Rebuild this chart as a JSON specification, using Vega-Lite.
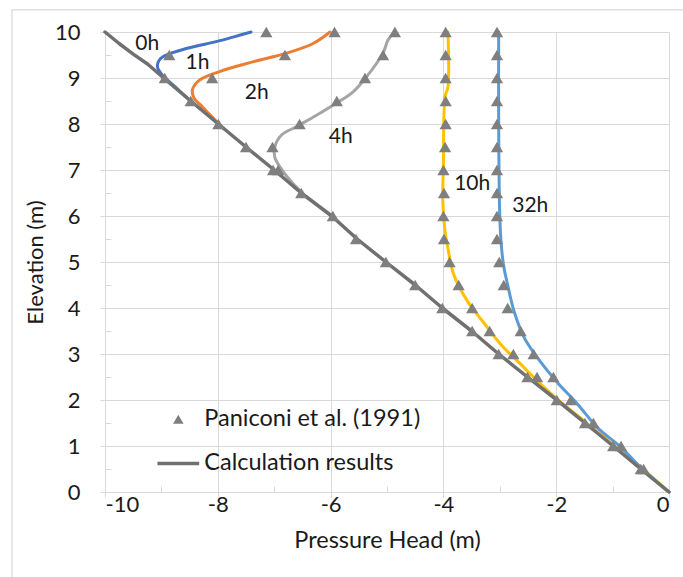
{
  "$schema": "https://vega.github.io/schema/vega-lite/v6.json",
  "width": 564,
  "height": 460,
  "autosize": "none",
  "padding": {"left": 105, "top": 32, "right": 14, "bottom": 85},
  "background": "white",
  "config": {"view": {"stroke": null}, "font": "Lato"},
  "datasets": {
    "lines": [
      {"s": "1h", "i": 1, "p": -7.41, "e": 10},
      {"s": "1h", "i": 2, "p": -7.7, "e": 9.9},
      {"s": "1h", "i": 3, "p": -8.03, "e": 9.79},
      {"s": "1h", "i": 4, "p": -8.56, "e": 9.64},
      {"s": "1h", "i": 5, "p": -9.01, "e": 9.43},
      {"s": "1h", "i": 6, "p": -9.07, "e": 9.24},
      {"s": "1h", "i": 7, "p": -8.98, "e": 9.06},
      {"s": "1h", "i": 8, "p": -8.75, "e": 8.8},
      {"s": "1h", "i": 9, "p": -8.5, "e": 8.52},
      {"s": "2h", "i": 1, "p": -6.01, "e": 10},
      {"s": "2h", "i": 2, "p": -6.31, "e": 9.75},
      {"s": "2h", "i": 3, "p": -6.78, "e": 9.54},
      {"s": "2h", "i": 4, "p": -7.38, "e": 9.35},
      {"s": "2h", "i": 5, "p": -7.97, "e": 9.14},
      {"s": "2h", "i": 6, "p": -8.33, "e": 8.95},
      {"s": "2h", "i": 7, "p": -8.45, "e": 8.74},
      {"s": "2h", "i": 8, "p": -8.42, "e": 8.56},
      {"s": "2h", "i": 9, "p": -8.27, "e": 8.37},
      {"s": "2h", "i": 10, "p": -8.1, "e": 8.15},
      {"s": "2h", "i": 11, "p": -7.9, "e": 7.9},
      {"s": "4h", "i": 1, "p": -4.86, "e": 10},
      {"s": "4h", "i": 2, "p": -4.98, "e": 9.83},
      {"s": "4h", "i": 3, "p": -5.07, "e": 9.54},
      {"s": "4h", "i": 4, "p": -5.36, "e": 9.03},
      {"s": "4h", "i": 5, "p": -5.6, "e": 8.7},
      {"s": "4h", "i": 6, "p": -5.9, "e": 8.45},
      {"s": "4h", "i": 7, "p": -6.25, "e": 8.19},
      {"s": "4h", "i": 8, "p": -6.61, "e": 7.94},
      {"s": "4h", "i": 9, "p": -6.87, "e": 7.76},
      {"s": "4h", "i": 10, "p": -6.99, "e": 7.5},
      {"s": "4h", "i": 11, "p": -6.99, "e": 7.28},
      {"s": "4h", "i": 12, "p": -6.9, "e": 7.07},
      {"s": "4h", "i": 13, "p": -6.7, "e": 6.75},
      {"s": "4h", "i": 14, "p": -6.5, "e": 6.5},
      {"s": "10h", "i": 1, "p": -3.92, "e": 10},
      {"s": "10h", "i": 2, "p": -3.92, "e": 8.8},
      {"s": "10h", "i": 3, "p": -3.97, "e": 8.6},
      {"s": "10h", "i": 4, "p": -4.0, "e": 7.1},
      {"s": "10h", "i": 5, "p": -4.01, "e": 6.3},
      {"s": "10h", "i": 6, "p": -3.97, "e": 5.65},
      {"s": "10h", "i": 7, "p": -3.92, "e": 5.3},
      {"s": "10h", "i": 8, "p": -3.82, "e": 4.74},
      {"s": "10h", "i": 9, "p": -3.58, "e": 4.16},
      {"s": "10h", "i": 10, "p": -3.29, "e": 3.69},
      {"s": "10h", "i": 11, "p": -2.99, "e": 3.22},
      {"s": "10h", "i": 12, "p": -2.63, "e": 2.78},
      {"s": "10h", "i": 13, "p": -2.28, "e": 2.35},
      {"s": "10h", "i": 14, "p": -1.98, "e": 2.02},
      {"s": "10h", "i": 15, "p": -1.48, "e": 1.52},
      {"s": "10h", "i": 16, "p": -0.98, "e": 1.02},
      {"s": "10h", "i": 17, "p": -0.48, "e": 0.52},
      {"s": "10h", "i": 18, "p": 0, "e": 0},
      {"s": "32h", "i": 1, "p": -3.02, "e": 10},
      {"s": "32h", "i": 2, "p": -3.02, "e": 8.0},
      {"s": "32h", "i": 3, "p": -3.0, "e": 5.98},
      {"s": "32h", "i": 4, "p": -2.97, "e": 5.32},
      {"s": "32h", "i": 5, "p": -2.93, "e": 4.9},
      {"s": "32h", "i": 6, "p": -2.86, "e": 4.5},
      {"s": "32h", "i": 7, "p": -2.75, "e": 3.94},
      {"s": "32h", "i": 8, "p": -2.57, "e": 3.36},
      {"s": "32h", "i": 9, "p": -2.34, "e": 2.93},
      {"s": "32h", "i": 10, "p": -1.98, "e": 2.38},
      {"s": "32h", "i": 11, "p": -1.62, "e": 1.91},
      {"s": "32h", "i": 12, "p": -1.27, "e": 1.4},
      {"s": "32h", "i": 13, "p": -0.85, "e": 0.97},
      {"s": "32h", "i": 14, "p": -0.44, "e": 0.46},
      {"s": "32h", "i": 15, "p": 0, "e": 0},
      {"s": "0h", "i": 1, "p": -10, "e": 10},
      {"s": "0h", "i": 2, "p": -9.75, "e": 9.75},
      {"s": "0h", "i": 3, "p": -9.5, "e": 9.52},
      {"s": "0h", "i": 4, "p": -9.24, "e": 9.3},
      {"s": "0h", "i": 5, "p": -8.96, "e": 9.0},
      {"s": "0h", "i": 6, "p": -8.48, "e": 8.5},
      {"s": "0h", "i": 7, "p": -7.99, "e": 8.0},
      {"s": "0h", "i": 8, "p": -7.5, "e": 7.5},
      {"s": "0h", "i": 9, "p": -7.0, "e": 7.0},
      {"s": "0h", "i": 10, "p": -6.52, "e": 6.5},
      {"s": "0h", "i": 11, "p": -5.98, "e": 6.0},
      {"s": "0h", "i": 12, "p": -5.53, "e": 5.5},
      {"s": "0h", "i": 13, "p": -5.02, "e": 5.0},
      {"s": "0h", "i": 14, "p": -4.5, "e": 4.5},
      {"s": "0h", "i": 15, "p": -4.02, "e": 4.0},
      {"s": "0h", "i": 16, "p": -3.5, "e": 3.5},
      {"s": "0h", "i": 17, "p": -3.02, "e": 3.0},
      {"s": "0h", "i": 18, "p": -2.51, "e": 2.5},
      {"s": "0h", "i": 19, "p": -1.99, "e": 2.0},
      {"s": "0h", "i": 20, "p": -1.49, "e": 1.5},
      {"s": "0h", "i": 21, "p": -0.99, "e": 1.0},
      {"s": "0h", "i": 22, "p": -0.5, "e": 0.5},
      {"s": "0h", "i": 23, "p": 0, "e": 0}
    ],
    "marks": [
      {"s": "1h", "p": -7.14, "e": 10}, {"s": "1h", "p": -8.86, "e": 9.5},
      {"s": "2h", "p": -5.93, "e": 10}, {"s": "2h", "p": -6.81, "e": 9.5}, {"s": "2h", "p": -8.1, "e": 9.0},
      {"s": "4h", "p": -4.86, "e": 10}, {"s": "4h", "p": -5.07, "e": 9.5}, {"s": "4h", "p": -5.39, "e": 9.0},
      {"s": "4h", "p": -5.89, "e": 8.5}, {"s": "4h", "p": -6.55, "e": 8.0}, {"s": "4h", "p": -7.03, "e": 7.5},
      {"s": "4h", "p": -6.93, "e": 7.0},
      {"s": "0h", "p": -8.94, "e": 9.0}, {"s": "0h", "p": -8.48, "e": 8.5}, {"s": "0h", "p": -7.99, "e": 8.0},
      {"s": "0h", "p": -7.5, "e": 7.5}, {"s": "0h", "p": -7.02, "e": 7.0}, {"s": "0h", "p": -6.52, "e": 6.5},
      {"s": "0h", "p": -5.96, "e": 6.0}, {"s": "0h", "p": -5.55, "e": 5.5}, {"s": "0h", "p": -5.02, "e": 5.0},
      {"s": "0h", "p": -4.5, "e": 4.5}, {"s": "0h", "p": -4.02, "e": 4.0}, {"s": "0h", "p": -3.49, "e": 3.5},
      {"s": "0h", "p": -3.02, "e": 3.0}, {"s": "0h", "p": -2.51, "e": 2.5}, {"s": "0h", "p": -1.99, "e": 2.0},
      {"s": "0h", "p": -1.49, "e": 1.5}, {"s": "0h", "p": -0.99, "e": 1.0}, {"s": "0h", "p": -0.5, "e": 0.5},
      {"s": "10h", "p": -3.96, "e": 10}, {"s": "10h", "p": -3.96, "e": 9.5}, {"s": "10h", "p": -3.96, "e": 9.0},
      {"s": "10h", "p": -3.96, "e": 8.5}, {"s": "10h", "p": -3.96, "e": 8.0}, {"s": "10h", "p": -3.97, "e": 7.5},
      {"s": "10h", "p": -4.0, "e": 7.0}, {"s": "10h", "p": -3.99, "e": 6.5}, {"s": "10h", "p": -4.0, "e": 6.0},
      {"s": "10h", "p": -3.99, "e": 5.5}, {"s": "10h", "p": -3.89, "e": 5.0}, {"s": "10h", "p": -3.73, "e": 4.5},
      {"s": "10h", "p": -3.49, "e": 4.0}, {"s": "10h", "p": -3.18, "e": 3.5}, {"s": "10h", "p": -2.76, "e": 3.0},
      {"s": "10h", "p": -2.34, "e": 2.5},
      {"s": "32h", "p": -3.05, "e": 10}, {"s": "32h", "p": -3.05, "e": 9.5}, {"s": "32h", "p": -3.05, "e": 9.0},
      {"s": "32h", "p": -3.05, "e": 8.5}, {"s": "32h", "p": -3.05, "e": 8.0}, {"s": "32h", "p": -3.05, "e": 7.5},
      {"s": "32h", "p": -3.05, "e": 7.0}, {"s": "32h", "p": -3.05, "e": 6.5}, {"s": "32h", "p": -3.05, "e": 6.0},
      {"s": "32h", "p": -3.05, "e": 5.5}, {"s": "32h", "p": -3.01, "e": 5.0}, {"s": "32h", "p": -2.93, "e": 4.5},
      {"s": "32h", "p": -2.86, "e": 4.0}, {"s": "32h", "p": -2.63, "e": 3.5}, {"s": "32h", "p": -2.4, "e": 3.0},
      {"s": "32h", "p": -2.05, "e": 2.5}, {"s": "32h", "p": -1.74, "e": 2.0}, {"s": "32h", "p": -1.34, "e": 1.5},
      {"s": "32h", "p": -0.85, "e": 1.0}, {"s": "32h", "p": -0.45, "e": 0.5}
    ],
    "labels": [
      {"t": "0h", "p": -9.25, "e": 9.74},
      {"t": "1h", "p": -8.36, "e": 9.32},
      {"t": "2h", "p": -7.31, "e": 8.67},
      {"t": "4h", "p": -5.82, "e": 7.71},
      {"t": "10h", "p": -3.49, "e": 6.69},
      {"t": "32h", "p": -2.46, "e": 6.21}
    ]
  },
  "resolve": {"axis": {"x": "independent", "y": "independent"}},
  "layer": [
    {
      "data": {"values": [{}]},
      "mark": {"type": "rect", "filled": false, "stroke": "#d9d9d9", "strokeWidth": 1.2, "clip": false},
      "encoding": {
        "x": {"datum": -11.65, "type": "quantitative", "scale": {"domain": [-10, 0], "nice": false, "zero": false}, "axis": null},
        "x2": {"datum": 3},
        "y": {"datum": 10.48, "type": "quantitative", "scale": {"domain": [0, 10], "nice": false, "zero": false}, "axis": null},
        "y2": {"datum": -3}
      }
    },
    {
      "data": {"name": "lines"},
      "transform": [{"filter": "datum.s != '0h'"}],
      "mark": {"type": "line", "strokeWidth": 3, "strokeCap": "round", "strokeJoin": "round", "interpolate": "catmull-rom"},
      "encoding": {
        "x": {
          "field": "p", "type": "quantitative",
          "scale": {"domain": [-10, 0], "nice": false, "zero": false},
          "axis": {
            "values": [-10, -8, -6, -4, -2, 0], "title": "Pressure Head (m)", "grid": true,
            "labelExpr": "datum.value < 0 ? '-' + format(-datum.value, 'd') : format(datum.value, 'd')",
            "gridColor": "#d9d9d9", "domainColor": "#d9d9d9", "tickColor": "#d9d9d9", "tickSize": 5,
            "labelFontSize": 22, "labelColor": "#1a1a1a", "labelPadding": -3, "labelFont": "Lato",
            "titleFontSize": 23.5, "titleFontWeight": "normal", "titleColor": "#1a1a1a", "titleFont": "Lato", "titlePadding": 13
          }
        },
        "y": {
          "field": "e", "type": "quantitative",
          "scale": {"domain": [0, 10], "nice": false, "zero": false},
          "axis": {
            "values": [0, 1, 2, 3, 4, 5, 6, 7, 8, 9, 10], "title": "Elevation (m)", "grid": true,
            "gridColor": "#d9d9d9", "domainColor": "#d9d9d9", "tickColor": "#d9d9d9", "tickSize": 5,
            "labelFontSize": 22, "labelColor": "#1a1a1a", "labelPadding": 20, "labelFont": "Lato",
            "titleFontSize": 22, "titleFontWeight": "normal", "titleColor": "#1a1a1a", "titleFont": "Lato", "titlePadding": 7
          }
        },
        "color": {
          "field": "s", "type": "nominal",
          "scale": {"domain": ["1h", "2h", "4h", "10h", "32h"], "range": ["#4472c4", "#ed7d31", "#a5a5a5", "#ffc000", "#5b9bd5"]},
          "legend": null
        },
        "order": {"field": "i", "type": "quantitative"}
      }
    },
    {
      "data": {"name": "lines"},
      "transform": [{"filter": "datum.s == '0h'"}],
      "mark": {"type": "line", "strokeWidth": 3.5, "color": "#707070", "strokeCap": "round", "strokeJoin": "round"},
      "encoding": {
        "x": {"field": "p", "type": "quantitative", "scale": {"domain": [-10, 0], "nice": false, "zero": false}, "axis": null},
        "y": {"field": "e", "type": "quantitative", "scale": {"domain": [0, 10], "nice": false, "zero": false}, "axis": null},
        "order": {"field": "i", "type": "quantitative"}
      }
    },
    {
      "data": {"name": "marks"},
      "mark": {"type": "point", "shape": "triangle-up", "filled": true, "color": "#7f7f7f", "opacity": 1, "size": 150},
      "encoding": {
        "x": {
          "field": "p", "type": "quantitative", "scale": {"domain": [-10, 0], "nice": false, "zero": false},
          "axis": {"orient": "bottom", "values": [-10, -9, -8, -7, -6, -5, -4, -3, -2, -1, 0], "tickSize": -6, "labels": false, "domain": false, "grid": false, "title": null, "tickColor": "#d9d9d9"}
        },
        "y": {
          "field": "e", "type": "quantitative", "scale": {"domain": [0, 10], "nice": false, "zero": false},
          "axis": {"orient": "left", "values": [0, 0.5, 1, 1.5, 2, 2.5, 3, 3.5, 4, 4.5, 5, 5.5, 6, 6.5, 7, 7.5, 8, 8.5, 9, 9.5, 10], "tickSize": -6, "labels": false, "domain": false, "grid": false, "title": null, "tickColor": "#d9d9d9"}
        }
      }
    },
    {
      "data": {"name": "labels"},
      "mark": {"type": "text", "fontSize": 21, "font": "Lato", "color": "#1a1a1a", "align": "center", "baseline": "middle"},
      "encoding": {
        "x": {"field": "p", "type": "quantitative", "scale": {"domain": [-10, 0], "nice": false, "zero": false}, "axis": null},
        "y": {"field": "e", "type": "quantitative", "scale": {"domain": [0, 10], "nice": false, "zero": false}, "axis": null},
        "text": {"field": "t"}
      }
    },
    {
      "data": {"values": [{}]},
      "mark": {"type": "point", "shape": "triangle-up", "filled": true, "color": "#7f7f7f", "opacity": 1, "size": 110},
      "encoding": {
        "x": {"datum": -8.7, "type": "quantitative", "scale": {"domain": [-10, 0], "nice": false, "zero": false}, "axis": null},
        "y": {"datum": 1.58, "type": "quantitative", "scale": {"domain": [0, 10], "nice": false, "zero": false}, "axis": null}
      }
    },
    {
      "data": {"values": [{}]},
      "mark": {"type": "rule", "strokeWidth": 3.5, "color": "#707070"},
      "encoding": {
        "x": {"datum": -9.07, "type": "quantitative", "scale": {"domain": [-10, 0], "nice": false, "zero": false}, "axis": null},
        "x2": {"datum": -8.33},
        "y": {"datum": 0.62, "type": "quantitative", "scale": {"domain": [0, 10], "nice": false, "zero": false}, "axis": null}
      }
    },
    {
      "data": {"values": [{"t": "Paniconi et al. (1991)", "y": 1.58}, {"t": "Calculation results", "y": 0.62}]},
      "mark": {"type": "text", "fontSize": 23.5, "font": "Lato", "color": "#1a1a1a", "align": "left", "baseline": "middle"},
      "encoding": {
        "x": {"datum": -8.24, "type": "quantitative", "scale": {"domain": [-10, 0], "nice": false, "zero": false}, "axis": null},
        "y": {"field": "y", "type": "quantitative", "scale": {"domain": [0, 10], "nice": false, "zero": false}, "axis": null},
        "text": {"field": "t"}
      }
    }
  ]
}
